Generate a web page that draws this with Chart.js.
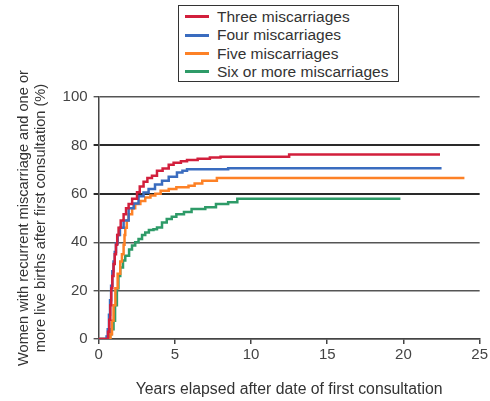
<!DOCTYPE html>
<html>
<head>
<meta charset="utf-8">
<script src="https://cdn.jsdelivr.net/npm/chart.js@4.4.0/dist/chart.umd.min.js"></script>
<style>
    html, body { margin: 0; padding: 0; background: #fff; }
    #wrap { position: relative; width: 490px; height: 401px; }
    #legend {
        position: absolute; left: 178px; top: 5px; width: 219px; height: 75px;
        border: 1.5px solid #333; background: #fff; box-sizing: content-box;
        font-family: "Liberation Sans", Arial, sans-serif; font-size: 15.5px; color: #333;
    }
    #legend .item { position: absolute; left: 6px; height: 18px; line-height: 18px; white-space: nowrap; }
    #legend .swatch { display: inline-block; width: 24px; height: 3px; vertical-align: middle; margin-right: 8px; margin-top: -2px; }
</style>
</head>
<body>
<div id="wrap">
    <canvas id="myChart" width="490" height="401"></canvas>
    <div id="legend"></div>
</div>
<script>
// Kaplan-Meier style curves (years, % with live birth)
const labels = ['Three miscarriages', 'Four miscarriages', 'Five miscarriages', 'Six or more miscarriages'];
const colors = ['#d21f3c', '#3a6cbf', '#fd8126', '#2e9b68'];

const yearsThree = [0, 0.55, 0.62, 0.7, 0.77, 0.83, 0.9, 0.98, 1.06, 1.14, 1.22, 1.31, 1.45, 1.64, 1.8, 1.97, 2.2, 2.52, 2.7, 2.95, 3.2, 3.5, 3.83, 4.2, 4.6, 4.92, 5.4, 5.8, 6.5, 7.3, 8, 12.5, 22.4];
const valuesThree = [0, 0, 3, 8, 14, 21, 26, 31, 35, 39, 43, 46, 49, 51.6, 54, 55.8, 58, 60.6, 63, 65, 66.5, 67.5, 69.5, 70.5, 72, 72.8, 73.5, 74, 74.5, 75, 75.3, 76.2, 76.2];

const yearsFour = [0, 0.45, 0.52, 0.6, 0.68, 0.75, 0.82, 0.9, 0.98, 1.06, 1.14, 1.25, 1.4, 1.64, 1.97, 2.3, 2.62, 2.95, 3.28, 3.7, 4.16, 4.6, 5.14, 5.5, 5.8, 8.5, 22.5];
const valuesFour = [0, 0, 1, 4, 10, 16, 22, 28, 32, 36, 39.5, 43, 46, 49, 54, 56, 59, 60.5, 62, 63.8, 65.4, 67, 68.8, 69.5, 70.2, 70.6, 70.6];

const yearsFive = [0, 0.7, 0.78, 0.88, 0.98, 1.1, 1.25, 1.42, 1.53, 1.64, 1.7, 1.75, 1.85, 1.97, 2.2, 2.4, 2.74, 3.06, 3.4, 3.72, 4.07, 4.6, 5.1, 5.9, 6.3, 6.8, 7.76, 24];
const valuesFive = [0, 0, 2, 7.6, 14, 21, 27, 32, 35, 39, 43, 46, 49, 51.6, 54, 55.8, 57, 58.5, 59.3, 60, 61.3, 62, 62.7, 63.3, 64.3, 65.4, 66.5, 66.5];

const yearsSix = [0, 0.65, 0.75, 0.85, 0.98, 1.08, 1.2, 1.3, 1.42, 1.6, 1.75, 2, 2.19, 2.4, 2.62, 2.85, 3.06, 3.3, 3.6, 3.83, 4.16, 4.47, 4.8, 5.1, 5.6, 6.1, 7, 7.7, 8.5, 9.1, 19.8];
const valuesSix = [0, 0, 2, 4, 7.6, 14, 21, 26, 29.6, 32.4, 34.4, 37, 38.6, 40, 41.3, 43, 44, 45, 45.4, 46.1, 48.2, 49.6, 50.5, 51.6, 52.5, 53.7, 54.5, 55.8, 56.5, 58, 58];

const xTicks = [0, 5, 10, 15, 20, 25];
const yTicks = [0, 20, 40, 60, 80, 100];

const FONT = '"Liberation Sans", Arial, sans-serif';

function toPoints(xs, ys) {
    return xs.map((x, i) => ({ x: x, y: ys[i] }));
}

const series = [
    toPoints(yearsThree, valuesThree),
    toPoints(yearsFour, valuesFour),
    toPoints(yearsFive, valuesFive),
    toPoints(yearsSix, valuesSix)
];

// draw order: green at the back, red on top
const datasets = series.map((pts, i) => ({
    label: labels[i],
    data: pts,
    borderColor: colors[i],
    borderWidth: 2.5,
    stepped: true,
    pointRadius: 0,
    fill: false,
    order: i
}));

// HTML legend with a box round it
const legendEl = document.getElementById('legend');
labels.forEach((text, i) => {
    const row = document.createElement('div');
    row.className = 'item';
    row.style.top = (2 + i * 18.3) + 'px';
    row.innerHTML = '<span class="swatch" style="background:' + colors[i] + '"></span>' + text;
    legendEl.appendChild(row);
});

const ctx = document.getElementById('myChart').getContext('2d');
const chart = new Chart(ctx, {
    type: 'line',
    data: { datasets: datasets },
    options: {
        responsive: false,
        animation: false,
        layout: { padding: { top: 97, right: 9, left: 16, bottom: 2 } },
        plugins: {
            legend: { display: false },
            tooltip: { enabled: false }
        },
        scales: {
            x: {
                type: 'linear',
                min: 0,
                max: 25,
                afterBuildTicks: axis => { axis.ticks = xTicks.map(v => ({ value: v })); },
                border: { display: true, color: '#444', width: 1.5 },
                grid: { drawOnChartArea: false, drawTicks: true, tickLength: 5, color: '#444', lineWidth: 1.5 },
                ticks: { color: '#444', font: { family: FONT, size: 15 }, padding: 2 },
                title: {
                    display: true,
                    text: 'Years elapsed after date of first consultation',
                    color: '#333',
                    font: { family: FONT, size: 15.8 },
                    padding: { top: 14, bottom: 0 }
                }
            },
            y: {
                min: 0,
                max: 100,
                afterBuildTicks: axis => { axis.ticks = yTicks.map(v => ({ value: v })); },
                border: { display: true, color: '#444', width: 1.5 },
                grid: {
                    color: c => (c.tick && (c.tick.value === 60 || c.tick.value === 80)) ? '#2a2a2a' : '#555',
                    lineWidth: c => (c.tick && (c.tick.value === 60 || c.tick.value === 80)) ? 2 : 1.4,
                    tickLength: 5
                },
                ticks: { color: '#444', font: { family: FONT, size: 15 }, padding: 6 },
                title: {
                    display: true,
                    text: ['Women with recurrent miscarriage and one or', 'more live births after first consultation (%)'],
                    color: '#333',
                    font: { family: FONT, size: 14.6, lineHeight: 1.15 },
                    padding: { top: 0, bottom: 7 }
                }
            }
        }
    }
});
</script>
</body>
</html>
